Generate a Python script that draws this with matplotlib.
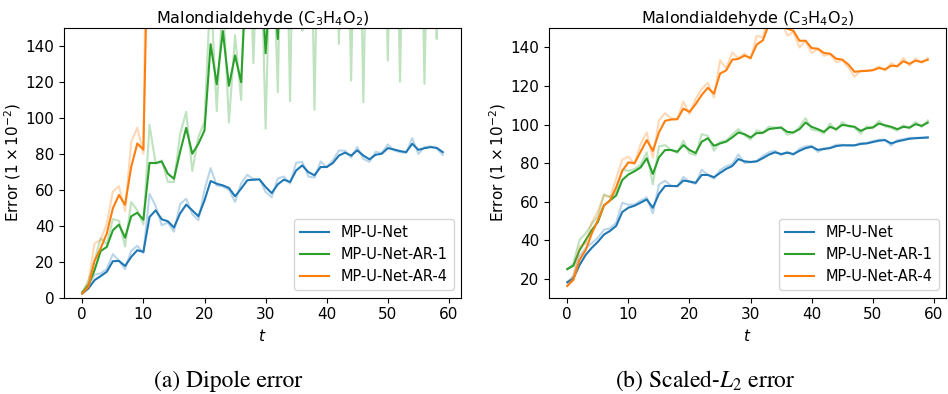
#!/usr/bin/env python3
"""Malondialdehyde rollout error vs. step: dipole error and scaled-L2 error.

Faint lines are the raw per-step errors; solid lines are an exponential
moving average of them (weight 0.4 on the previous smoothed value).
"""
import matplotlib

matplotlib.use("Agg")
import matplotlib.pyplot as plt

# raw errors (x 1e-2), one value per rollout step t = 0, 1, 2, ...
DIPOLE_UNET = [
    2.2, 6.9, 12.7, 13.4, 15.9, 24.1, 20.5, 15.7, 25.9, 28.8,
    24.8, 57.7, 51.0, 40.2, 41.7, 36.6, 51.9, 55.0, 46.4, 43.0,
    59.9, 72.0, 62.3, 61.8, 60.0, 53.2, 63.5, 68.3, 65.8, 65.8,
    58.7, 55.8, 66.3, 67.3, 63.4, 75.0, 75.4, 67.3, 66.8, 75.7,
    72.6, 76.3, 81.8, 81.7, 77.9, 83.8, 77.1, 75.5, 81.1, 80.4,
    85.2, 81.9, 80.9, 80.5, 88.7, 79.9, 83.7, 84.1, 83.0, 79.3,
]
DIPOLE_AR1 = [
    2.8, 9.6, 20.7, 33.0, 29.6, 43.6, 42.7, 28.4, 53.1, 48.5,
    40.7, 96.0, 74.7, 76.3, 64.4, 64.2, 90.8, 103.4, 70.4, 89.3,
    97.9, 173.0, 103.8, 168.0, 97.5, 146.0, 109.9, 240.0, 130.4, 228.0,
    93.9, 223.0, 114.3, 290.0, 109.3, 300.0, 148.5, 300.0, 104.4, 300.0,
    250.0, 300.0, 141.1, 280.0, 120.7, 300.0, 108.7, 300.0, 240.0, 300.0,
    131.8, 290.0, 120.2, 300.0, 260.0, 300.0, 118.9, 290.0, 143.9, 280.0,
]
# AR-4 blows up after t = 10; later values are off the chart
DIPOLE_AR4 = [2.2, 8.4, 30.0, 32.0, 41.0, 59.0, 62.0, 48.0, 86.5, 94.5, 80.0, 362.0]

L2_UNET = [
    18.3, 21.6, 31.8, 35.9, 38.6, 41.3, 45.5, 46.2, 49.2, 59.5,
    58.4, 58.6, 60.6, 62.3, 54.0, 68.9, 70.9, 68.2, 68.0, 72.9,
    70.2, 69.3, 76.6, 73.9, 71.9, 76.4, 78.4, 79.5, 84.5, 80.1,
    80.4, 81.1, 83.7, 85.6, 86.4, 84.1, 85.9, 84.2, 87.5, 88.7,
    89.0, 85.8, 87.6, 88.1, 89.5, 89.5, 89.2, 89.2, 90.4, 90.4,
    91.4, 92.1, 92.1, 89.1, 91.9, 92.4, 93.1, 93.1, 93.2, 93.4,
]
L2_AR1 = [
    25.1, 28.1, 40.2, 43.6, 48.6, 52.4, 63.8, 62.4, 65.0, 76.6,
    76.0, 76.9, 79.1, 85.6, 69.0, 88.7, 89.3, 86.8, 85.3, 91.6,
    85.1, 84.1, 95.0, 94.1, 86.4, 91.0, 91.7, 94.8, 97.6, 94.4,
    92.2, 97.0, 95.8, 98.9, 98.4, 98.6, 94.7, 95.7, 98.7, 103.3,
    97.3, 96.8, 95.3, 100.5, 96.8, 101.3, 99.0, 98.5, 95.3, 99.0,
    98.6, 101.9, 99.0, 98.3, 96.8, 99.6, 98.1, 101.4, 98.7, 102.1,
]
L2_AR4 = [
    16.4, 21.6, 36.7, 38.3, 49.2, 55.0, 63.2, 62.4, 72.0, 81.8,
    83.3, 79.6, 89.9, 95.9, 82.7, 102.2, 105.9, 103.1, 102.8, 111.9,
    105.4, 113.2, 118.5, 121.5, 114.0, 133.3, 129.1, 137.3, 134.3, 136.8,
    133.7, 146.0, 145.0, 157.6, 158.7, 154.3, 146.0, 147.9, 139.9, 143.4,
    137.0, 139.1, 135.6, 136.4, 132.4, 133.3, 129.4, 124.8, 127.8, 127.9,
    128.3, 130.1, 128.0, 131.8, 130.0, 134.5, 130.5, 134.2, 131.9, 134.4,
]

LABELS = ["MP-U-Net", "MP-U-Net-AR-1", "MP-U-Net-AR-4"]
COLORS = ["tab:blue", "tab:green", "tab:orange"]
TITLE = "Malondialdehyde (C$_3$H$_4$O$_2$)"
CAPTIONS = ["(a) Dipole error", "(b) Scaled-$L_2$ error"]


def smooth(vals, weight=0.4):
    out, last = [], vals[0]
    for v in vals:
        last = weight * last + (1 - weight) * v
        out.append(last)
    return out


def draw(ax, series, ylim):
    for vals, label, color in zip(series, LABELS, COLORS):
        t = list(range(len(vals)))
        ax.plot(t, vals, color=color, alpha=0.3, lw=1.5)
        ax.plot(t, smooth(vals), color=color, lw=1.5, label=label)
    ax.set_xlim(-2.95, 61.95)
    ax.set_ylim(*ylim)
    ax.set_xticks([0, 10, 20, 30, 40, 50, 60])
    ax.set_xlabel("$t$", fontsize=11)
    ax.set_ylabel(r"Error $(1\times10^{-2})$", fontsize=11, labelpad=2)
    ax.set_title(TITLE, fontsize=11.5, pad=3)
    ax.tick_params(labelsize=11)
    ax.legend(loc="lower right", fontsize=10.5)


def main():
    fig = plt.figure(figsize=(9.48, 3.94), dpi=100)
    ax_a = fig.add_axes([0.0678, 0.2449, 0.4183, 0.6841])
    ax_b = fig.add_axes([0.5794, 0.2449, 0.4183, 0.6841])

    draw(ax_a, [DIPOLE_UNET, DIPOLE_AR1, DIPOLE_AR4], (0, 150))
    draw(ax_b, [L2_UNET, L2_AR1, L2_AR4], (10.4, 150))

    for x, text in zip([0.2405, 0.7437], CAPTIONS):
        fig.text(x, 0.033, text, ha="center", va="center", fontsize=17,
                 family="STIXGeneral", math_fontfamily="stix")

    fig.savefig("out.png", dpi=100)


if __name__ == "__main__":
    main()
